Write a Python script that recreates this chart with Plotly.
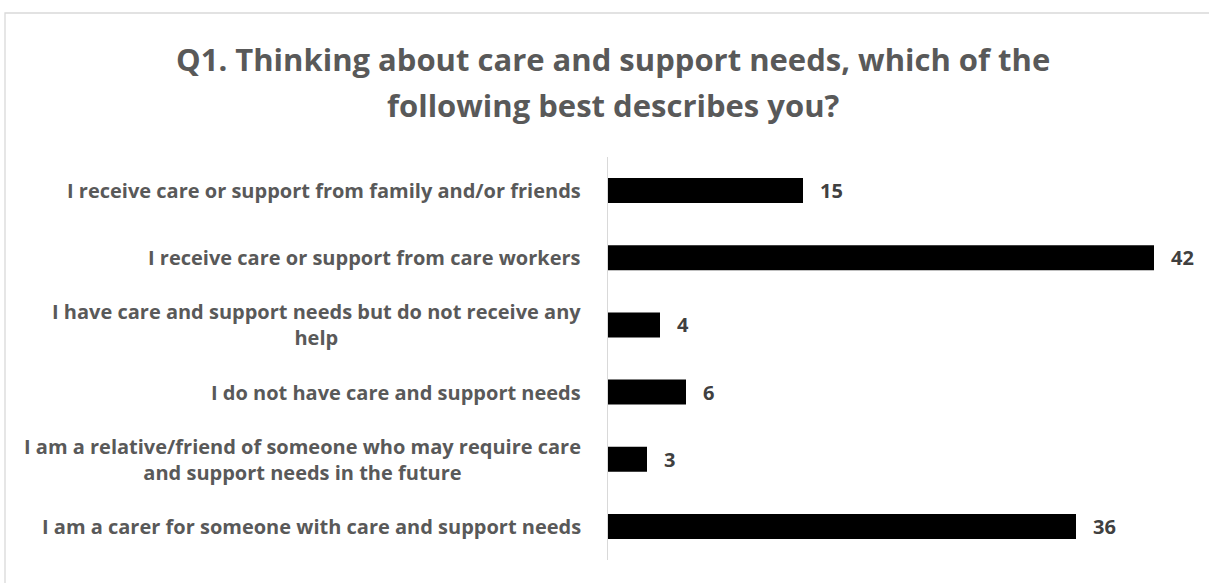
import plotly.graph_objects as go

# Survey responses (top to bottom as shown)
categories = [
    "I receive care or support from family and/or friends",
    "I receive care or support from care workers",
    "I have care and support needs but do not receive any<br>help",
    "I do not have care and support needs",
    "I am a relative/friend of someone who may require care<br>and support needs in the future",
    "I am a carer for someone with care and support needs",
]
counts = [15, 42, 4, 6, 3, 36]
title_lines = [
    "Q1. Thinking about care and support needs, which of the",
    "following best describes you?",
]

W, H = 1209, 583
L, R, T, B = 608, 16, 157, 23
X_MAX = 45
FONT = "Open Sans"


def px_x(px):
    return (px - L) / (W - L - R)


def px_y(py):
    return 1 - (py - T) / (H - T - B)


ids = list(range(len(categories)))

fig = go.Figure(
    go.Bar(
        x=counts,
        y=ids,
        orientation="h",
        marker=dict(color="#000000", line=dict(width=0)),
        hoverinfo="skip",
    )
)

annotations = []
# category labels, right-aligned against the axis with centred wrapped lines
for i, cat in zip(ids, categories):
    annotations.append(dict(
        x=0, y=i, xref="x", yref="y", text=cat, showarrow=False,
        xanchor="right", yanchor="middle", align="center", xshift=-25,
        font=dict(family=FONT, size=20, color="#595959", weight="bold"),
    ))
# value labels beside each bar
for i, v in zip(ids, counts):
    annotations.append(dict(
        x=v, y=i, xref="x", yref="y", text=str(v), showarrow=False,
        xanchor="left", yanchor="middle", xshift=15,
        font=dict(family=FONT, size=20, color="#404040", weight="bold"),
    ))
# two-line title
for line, cy in zip(title_lines, [59, 105]):
    annotations.append(dict(
        x=px_x(613), y=px_y(cy), xref="paper", yref="paper", text=line,
        showarrow=False, xanchor="center", yanchor="middle",
        font=dict(family=FONT, size=31, color="#595959", weight="bold"),
    ))

fig.update_layout(
    width=W, height=H,
    margin=dict(l=L, r=R, t=T, b=B, pad=0),
    paper_bgcolor="white", plot_bgcolor="white",
    bargap=0.628,
    showlegend=False,
    annotations=annotations,
    shapes=[dict(
        type="rect", xref="paper", yref="paper",
        x0=px_x(5), x1=px_x(1260), y0=px_y(640), y1=px_y(13),
        line=dict(color="#D9D9D9", width=1.3), fillcolor="rgba(0,0,0,0)",
        layer="below",
    )],
    xaxis=dict(range=[0, X_MAX], visible=False, fixedrange=True),
    yaxis=dict(
        range=[len(categories) - 0.5, -0.5], showticklabels=False,
        showgrid=False, zeroline=False, ticks="",
        showline=True, linecolor="#D9D9D9", linewidth=1, fixedrange=True,
    ),
)

fig.write_html("out.html")
